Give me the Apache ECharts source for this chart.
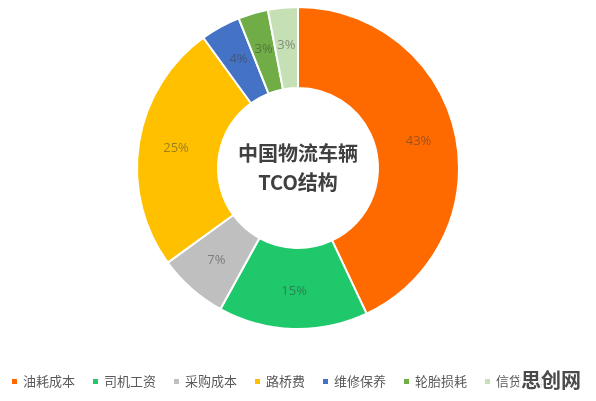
<!DOCTYPE html>
<html>
<head>
<meta charset="utf-8">
<script src="https://cdn.jsdelivr.net/npm/echarts@6/dist/echarts.min.js"></script>
<style>
html,body{margin:0;padding:0;background:#fff;}
#c{width:596px;height:401px;}
</style>
</head>
<body>
<div id="c"></div>
<script>
const categories = ['油耗成本', '司机工资', '采购成本', '路桥费', '维修保养', '轮胎损耗', '信贷成本'];
const values = [43, 15, 7, 25, 4, 3, 3];
const colors = ['#FF6A00', '#1FC86B', '#BFBFBF', '#FFC000', '#4472C4', '#70AD47', '#C5E0B4'];
const centerTitle = '中国物流车辆\nTCO结构';
const watermark = '思创网';

const chart = echarts.init(document.getElementById('c'));
chart.setOption({
  animation: false,
  backgroundColor: '#fff',
  color: colors,
  legend: {
    left: 5,
    top: 370,
    itemWidth: 7,
    itemHeight: 7,
    itemGap: 16,
    icon: 'rect',
    textStyle: { fontSize: 13, color: '#595959', fontFamily: 'Noto Sans CJK SC' },
    data: categories
  },
  graphic: [
    {
      type: 'text',
      x: 519,
      y: 369,
      style: {
        text: watermark,
        fontSize: 20,
        fontWeight: 'bold',
        fill: '#4a4a4a',
        fontFamily: 'Noto Sans CJK SC',
        backgroundColor: 'rgba(255,255,255,0.85)',
        padding: [1, 2]
      },
      z: 100
    }
  ],
  series: [{
    type: 'pie',
    center: [298, 168],
    radius: [80, 161],
    startAngle: 90,
    clockwise: true,
    itemStyle: { borderColor: '#fff', borderWidth: 2 },
    label: {
      show: true,
      position: 'inside',
      formatter: '{c}%',
      fontSize: 13,
      fontFamily: 'Open Sans',
      color: 'rgba(60,60,60,0.5)'
    },
    labelLine: { show: false },
    emphasis: { disabled: true },
    data: categories.map((n, i) => ({ name: n, value: values[i] }))
  }, {
    type: 'pie',
    center: [298, 168],
    radius: [0, 0],
    silent: true,
    label: {
      show: true,
      position: 'center',
      formatter: centerTitle,
      fontSize: 20,
      fontWeight: 'bold',
      lineHeight: 29,
      color: '#404040',
      fontFamily: 'Noto Sans CJK SC'
    },
    labelLine: { show: false },
    data: [{ name: 'center', value: 1, itemStyle: { color: 'transparent' } }]
  }]
});
</script>
</body>
</html>
